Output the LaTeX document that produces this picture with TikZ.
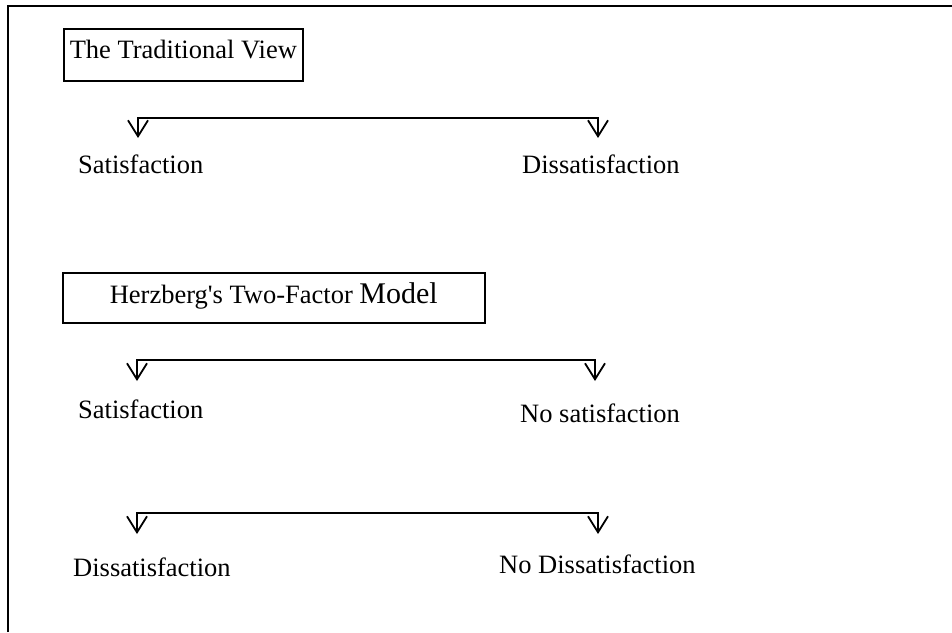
\documentclass[tikz,border=0pt]{standalone}
\usepackage{fontspec}
\setmainfont{Liberation Serif}
\usetikzlibrary{arrows.meta}
\begin{document}
\begin{tikzpicture}[x=1pt,y=-1pt,
  txt/.style={anchor=base west, inner sep=0pt, font=\fontsize{26.5}{32}\selectfont},
  titlebox/.style={draw, line width=1.6pt, anchor=north west, inner ysep=0pt,
    font=\fontsize{26.5}{32}\selectfont},
  barb/.tip={Straight Barb[length=16pt,width=20pt,line width=1.8pt]},
  link/.style={line width=1.6pt, {barb}-{barb}}]
\useasboundingbox (0,0) rectangle (952,632);

% outer frame (top and left edges)
\draw[line width=1.8pt] (8,632) -- (8,6) -- (952,6);

% headings
\node[titlebox, inner xsep=6pt, text height=30pt, text depth=22pt] (trad) at (63,28)
  {The Traditional View};
\node[titlebox, minimum width=422pt, text height=31pt, text depth=19pt] (herz) at (62,272)
  {Herzberg\textquotesingle s Two-Factor {\fontsize{30}{32}\selectfont Model}};

% labels
\node[txt] (sat1) at (78,173) {Satisfaction};
\node[txt] (dis1) at (522,173) {Dissatisfaction};
\node[txt] (sat2) at (78,418) {Satisfaction};
\node[txt] (nosat) at (520,422) {No satisfaction};
\node[txt] (dis3) at (73,576) {Dissatisfaction};
\node[txt] (nodis) at (499,573) {No Dissatisfaction};

% traditional continuum
\coordinate (t1l) at (138,138); \coordinate (c1l) at (138,118);
\coordinate (c1r) at (598,118); \coordinate (t1r) at (598,138);
\draw[link] (t1l) -- (c1l) -- (c1r) -- (t1r);

% satisfaction continuum
\coordinate (t2l) at (137,381); \coordinate (c2l) at (137,360);
\coordinate (c2r) at (595,360); \coordinate (t2r) at (595,381);
\draw[link] (t2l) -- (c2l) -- (c2r) -- (t2r);

% dissatisfaction continuum
\coordinate (t3l) at (137,534); \coordinate (c3l) at (137,513);
\coordinate (c3r) at (598,513); \coordinate (t3r) at (598,534);
\draw[link] (t3l) -- (c3l) -- (c3r) -- (t3r);
\end{tikzpicture}
\end{document}
